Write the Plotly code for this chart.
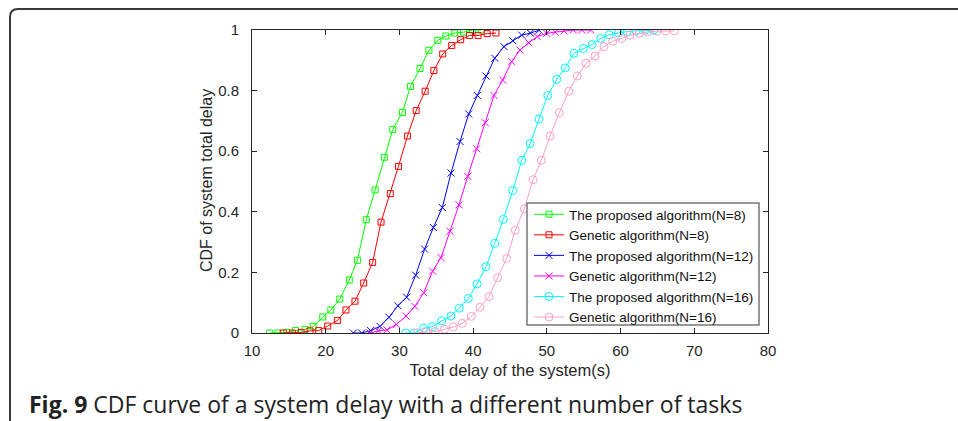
import plotly.graph_objects as go

# ---------------- data ----------------
x_prop8 = [12.4, 13.5, 14.7, 15.9, 17.2, 18.3, 19.6, 20.7, 21.9, 23.2, 24.3, 25.5, 26.7,
           27.95, 29.1, 30.4, 31.5, 32.8, 34.0, 35.2, 36.3, 37.5, 38.7, 39.9, 41.1]
y_prop8 = [0, 0, 0.002, 0.008, 0.012, 0.022, 0.053, 0.076, 0.112, 0.175, 0.24, 0.374, 0.472,
           0.58, 0.672, 0.728, 0.814, 0.873, 0.933, 0.966, 0.98, 0.99, 0.993, 1.0, 1.0]

x_gen8 = [14.25, 15.47, 16.65, 17.87, 19.05, 20.27, 21.58, 22.75, 23.97, 25.15, 26.37, 27.5,
          28.76, 29.87, 31.09, 32.27, 33.49, 34.67, 35.87, 37.09, 38.31, 39.5, 40.67, 41.9, 43.1]
y_gen8 = [0, 0, 0.002, 0.007, 0.008, 0.023, 0.041, 0.076, 0.105, 0.165, 0.233, 0.366,
          0.46, 0.55, 0.65, 0.734, 0.798, 0.866, 0.921, 0.949, 0.968, 0.982, 0.982, 0.988, 0.99]

x_prop12 = [23.75, 24.88, 26.1, 27.36, 28.58, 29.8, 30.98, 32.2, 33.42, 34.6, 35.82, 37.0,
            38.22, 39.4, 40.57, 41.75, 42.93, 44.19, 45.37, 46.59, 47.76, 48.94]
y_prop12 = [0, 0, 0.008, 0.022, 0.052, 0.09, 0.118, 0.191, 0.277, 0.348, 0.414, 0.528,
            0.632, 0.723, 0.784, 0.848, 0.907, 0.945, 0.965, 0.983, 0.99, 0.999]

x_gen12 = [26.0, 27.14, 28.3, 29.58, 30.9, 32.1, 33.3, 34.5, 35.64, 36.86, 38.08, 39.26,
           40.48, 41.65, 42.83, 44.01, 45.23, 46.36, 47.54, 48.7, 49.98, 51.15, 52.33,
           53.59, 54.73, 55.95]
y_gen12 = [0, 0.007, 0.01, 0.028, 0.056, 0.088, 0.133, 0.204, 0.249, 0.336, 0.423, 0.517,
           0.608, 0.694, 0.784, 0.835, 0.896, 0.934, 0.958, 0.978, 0.989, 0.993, 0.997,
           1.0, 1.0, 1.0]

x_prop16 = [30.85, 32.0, 33.3, 34.5, 35.74, 37.0, 38.12, 39.35, 40.53, 41.75, 42.93, 44.09,
            45.37, 46.59, 47.72, 48.94, 50.12, 51.34, 52.5, 53.68, 54.95, 56.13, 57.3,
            58.47, 59.69, 60.87, 62.1, 63.3, 64.5]
y_prop16 = [0, 0, 0.016, 0.021, 0.04, 0.056, 0.082, 0.114, 0.162, 0.219, 0.296, 0.375,
            0.47, 0.57, 0.625, 0.706, 0.784, 0.837, 0.875, 0.923, 0.939, 0.952, 0.972,
            0.984, 0.99, 0.995, 0.997, 0.999, 1.0]

x_gen16 = [32.48, 33.61, 34.83, 36.12, 37.31, 38.53, 39.75, 40.93, 42.15, 43.33, 44.55,
           45.72, 46.94, 48.12, 49.25, 50.43, 51.69, 52.97, 54.13, 55.31, 56.53, 57.75,
           58.93, 60.16, 61.28, 62.54, 63.68, 64.9, 66.07, 67.29]
y_gen16 = [0.001, 0.003, 0.005, 0.012, 0.02, 0.032, 0.055, 0.085, 0.12, 0.183, 0.246,
           0.339, 0.41, 0.506, 0.57, 0.65, 0.727, 0.798, 0.848, 0.89, 0.914, 0.945,
           0.963, 0.972, 0.983, 0.989, 0.994, 0.996, 0.997, 0.997]

x_ticks = [10, 20, 30, 40, 50, 60, 70, 80]
y_ticks = [0, 0.2, 0.4, 0.6, 0.8, 1]
y_tick_labels = ["0", "0.2", "0.4", "0.6", "0.8", "1"]

series = [
    ("The proposed algorithm(N=8)", x_prop8, y_prop8, "#00ff00", "square-open", 6),
    ("Genetic algorithm(N=8)", x_gen8, y_gen8, "#ff0000", "square-open", 6),
    ("The proposed algorithm(N=12)", x_prop12, y_prop12, "#0000ff", "x-thin-open", 7),
    ("Genetic algorithm(N=12)", x_gen12, y_gen12, "#ff00ff", "x-thin-open", 7),
    ("The proposed algorithm(N=16)", x_prop16, y_prop16, "#00ffff", "circle-open", 8),
    ("Genetic algorithm(N=16)", x_gen16, y_gen16, "#ff9fc4", "circle-open", 8),
]

W, H = 958, 421
L, R, T, B = 252, 768, 30, 333  # plot area in pixels

fig = go.Figure()
for name, xs, ys, col, sym, sz in series:
    fig.add_trace(go.Scatter(
        x=xs, y=ys, name=name, mode="lines+markers",
        line=dict(color=col, width=1),
        marker=dict(symbol=sym, size=sz, color=col, line=dict(color=col, width=1)),
    ))

def px2paper(px, py):
    return (px - L) / (R - L), (B - py) / (B - T)

# outer frame (rounded top-left corner)
p0 = px2paper(10, 421)
p1 = px2paper(10, 17)
p2 = px2paper(10, 9)
p3 = px2paper(18, 9)
p4 = px2paper(958, 9)
path = (f"M {p0[0]},{p0[1]} L {p1[0]},{p1[1]} Q {p2[0]},{p2[1]} {p3[0]},{p3[1]} "
        f"L {p4[0]},{p4[1]}")
fig.add_shape(type="path", path=path, xref="paper", yref="paper",
              line=dict(color="#3a3a3a", width=2))

# legend box (white, covers curves behind the legend)
b0 = px2paper(527, 325)
b1 = px2paper(759, 203)
fig.add_shape(type="rect", xref="paper", yref="paper", layer="above",
              x0=b0[0], y0=b0[1], x1=b1[0], y1=b1[1],
              fillcolor="white", line=dict(color="#777777", width=1.5))

cx, cy = px2paper(27, 404)
fig.add_annotation(
    text="<b>Fig. 9</b> CDF curve of a system delay with a different number of tasks",
    x=cx, y=cy, xref="paper", yref="paper", xanchor="left", yanchor="middle",
    showarrow=False, font=dict(family="Open Sans", size=23, color="#222222"))

axis_font = dict(family="Liberation Sans, Arial", size=15, color="#262626")
title_font = dict(family="Liberation Sans, Arial", size=16.5, color="#262626")

tx, ty = px2paper(206, 181)
fig.add_annotation(
    text="CDF of system total delay", x=tx, y=ty, xref="paper", yref="paper",
    xanchor="center", yanchor="middle", textangle=-90, showarrow=False,
    font=dict(family="Liberation Sans, Arial", size=16, color="#262626"))

fig.update_xaxes(
    range=[10, 80], tickvals=x_ticks, ticks="inside", ticklen=5, tickcolor="#262626",
    showline=True, linecolor="#262626", linewidth=1, mirror="allticks",
    showgrid=False, zeroline=False, tickfont=axis_font, ticklabelstandoff=4,
    title=dict(text="Total delay of the system(s)", font=title_font, standoff=6))
fig.update_yaxes(
    range=[0, 1], tickvals=y_ticks, ticktext=y_tick_labels, ticks="inside", ticklen=5,
    tickcolor="#262626", showline=True, linecolor="#262626", linewidth=1,
    mirror="allticks", showgrid=False, zeroline=False, tickfont=axis_font,
    ticklabelstandoff=9)

lx, ly = px2paper(759, 333)
fig.update_layout(
    width=W, height=H,
    margin=dict(l=L, r=W - R, t=T, b=H - B),
    paper_bgcolor="white", plot_bgcolor="white",
    showlegend=True,
    legend=dict(x=lx, y=ly, xanchor="right", yanchor="bottom",
                bgcolor="rgba(0,0,0,0)", borderwidth=0,
                font=dict(family="Liberation Sans, Arial", size=13.5, color="#111111"),
                tracegroupgap=0, itemwidth=30),
)

fig.write_html("out.html", config={"displayModeBar": False},
               post_script="document.body.style.margin='0';document.body.style.padding='0';")
